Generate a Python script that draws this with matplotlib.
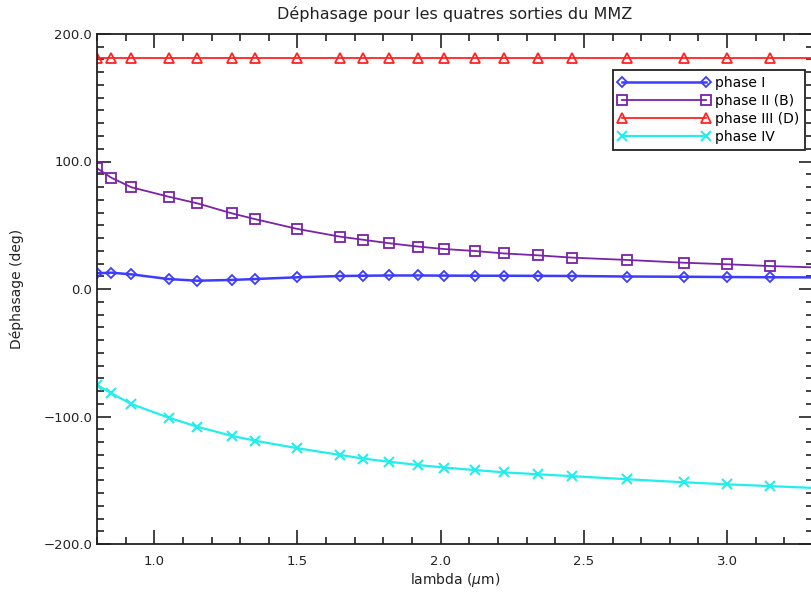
import matplotlib
matplotlib.use("Agg")
import matplotlib.pyplot as plt
from matplotlib.ticker import MultipleLocator, FuncFormatter

lam = [0.80, 0.85, 0.92, 1.05, 1.15, 1.27, 1.35, 1.50, 1.65, 1.73, 1.82, 1.92,
       2.01, 2.12, 2.22, 2.34, 2.46, 2.65, 2.85, 3.00, 3.15, 3.30]

phase1 = [12.3, 12.8, 11.5, 7.8, 6.5, 7.1, 7.8, 9.2, 10.2, 10.4, 10.6, 10.6,
          10.5, 10.4, 10.4, 10.3, 10.2, 9.8, 9.6, 9.4, 9.2, 9.1]
phase2 = [94.7, 87.3, 79.8, 72.4, 67.2, 59.4, 54.9, 47.1, 41.0, 38.6, 35.9, 33.3,
          31.4, 29.8, 27.9, 26.4, 24.6, 22.8, 20.6, 19.4, 18.0, 17.0]
phase3 = [181.5] * 22
phase4 = [-75.3, -81.8, -90.2, -100.9, -108.0, -115.1, -118.9, -124.9, -130.2, -133.0,
          -135.5, -138.0, -140.0, -142.0, -143.8, -145.3, -146.8, -149.2, -151.6,
          -153.2, -154.6, -156.0]

labels = ["phase I", "phase II (B)", "phase III (D)", "phase IV"]
colors = ["#3c3cff", "#7a22a8", "#ff2222", "#22eeee"]

fig = plt.figure(figsize=(8.11, 5.93), dpi=100)
ax = fig.add_axes([97 / 811, 49 / 593, 716 / 811, 510 / 593])

n = len(lam) - 1  # last point only extends the line to the axis edge
me = list(range(n))
ax.plot(lam, phase1, color=colors[0], lw=1.8, marker="D", ms=4.8, mfc="none",
        mew=1.3, markevery=me, label=labels[0])
ax.plot(lam, phase2, color=colors[1], lw=1.3, marker="s", ms=7.2, mfc="none",
        mew=1.3, markevery=me, label=labels[1])
ax.plot(lam, phase3, color=colors[2], lw=1.3, marker="^", ms=7, mfc="none",
        mew=1.3, markevery=me, label=labels[2])
ax.plot(lam, phase4, color=colors[3], lw=1.6, marker="x", ms=7,
        mew=1.5, markevery=me, label=labels[3])

ax.set_xlim(0.8, 3.3)
ax.set_ylim(-200, 200)
ax.xaxis.set_major_locator(MultipleLocator(0.5))
ax.xaxis.set_minor_locator(MultipleLocator(0.1))
ax.yaxis.set_major_locator(MultipleLocator(100))
ax.yaxis.set_minor_locator(MultipleLocator(10))
fmt = FuncFormatter(lambda v, p: ("%.1f" % v).replace("-", "\u2212"))
ax.xaxis.set_major_formatter(fmt)
ax.yaxis.set_major_formatter(fmt)
ax.tick_params(which="both", direction="in", top=True, right=True,
               colors="#222222", labelsize=9.5, width=1.2)
ax.tick_params(which="major", length=10)
ax.tick_params(which="minor", length=5)
ax.tick_params(axis="x", pad=8)
for s in ax.spines.values():
    s.set_linewidth(1.3)
    s.set_color("#222222")

ax.set_title("Déphasage pour les quatres sorties du MMZ", fontsize=11.5,
             color="#222222", pad=11)
ax.set_xlabel(r"lambda ($\mu$m)", fontsize=10, color="#222222", labelpad=2)
ax.set_ylabel("Déphasage (deg)", fontsize=10, color="#222222", labelpad=14)

leg = ax.legend(loc="upper right", bbox_to_anchor=(0.989, 0.929),
                borderaxespad=0, numpoints=2, handlelength=6.6,
                fontsize=10, fancybox=False, framealpha=1,
                edgecolor="#222222", labelspacing=0.3, borderpad=0.4,
                handletextpad=0.4)
leg.get_frame().set_linewidth(1.3)

fig.savefig("out.png", dpi=100)
